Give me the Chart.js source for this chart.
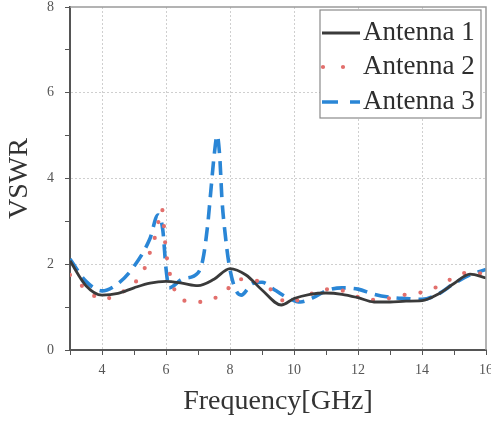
<!DOCTYPE html>
<html>
<head>
<meta charset="utf-8">
<script src="https://cdn.jsdelivr.net/npm/chart.js@4/dist/chart.umd.min.js"></script>
<style>
  html, body { margin: 0; padding: 0; background: #fff; }
  #wrap { width: 491px; height: 423px; position: relative; }
</style>
</head>
<body>
<div id="wrap"><canvas id="c" width="491" height="423"></canvas></div>
<script>
// ---- data ----
const seriesNames = ["Antenna 1", "Antenna 2", "Antenna 3"];

const freq1 = [3, 3.5, 4, 4.5, 5, 5.5, 6, 6.5, 7, 7.5, 8, 8.5, 9, 9.6, 10, 10.5, 11, 11.5, 12, 12.5, 13, 13.5, 14, 14.5, 15, 15.5, 16];
const vswr1 = [2.08, 1.5, 1.28, 1.32, 1.45, 1.56, 1.6, 1.56, 1.5, 1.65, 1.9, 1.75, 1.4, 1.05, 1.2, 1.3, 1.33, 1.3, 1.22, 1.12, 1.12, 1.14, 1.15, 1.3, 1.55, 1.77, 1.68];

const freq2 = [3, 3.5, 4, 4.5, 5, 5.3, 5.5, 5.7, 5.87, 6.0, 6.2, 6.5, 7, 7.5, 8, 8.3, 8.8, 9.3, 9.8, 10.25, 10.75, 11.3, 11.8, 12.3, 12.85, 13.4, 13.9, 14.4, 14.9, 15.4, 16];
const vswr2 = [1.75, 1.42, 1.18, 1.3, 1.55, 1.85, 2.28, 2.75, 3.3, 2.3, 1.55, 1.17, 1.12, 1.2, 1.47, 1.65, 1.62, 1.4, 1.1, 1.2, 1.38, 1.42, 1.3, 1.17, 1.19, 1.28, 1.33, 1.45, 1.65, 1.8, 1.78];

const freq3 = [3, 3.5, 4, 4.5, 5, 5.5, 5.75, 5.9, 6.0, 6.1, 6.5, 7, 7.15, 7.3, 7.4, 7.5, 7.6, 7.68, 7.75, 7.85, 7.97, 8.15, 8.35, 8.7, 9.0, 9.4, 9.8, 10.2, 10.6, 11, 11.5, 12, 12.5, 13, 13.5, 14, 14.5, 15, 15.5, 16];
const vswr3 = [2.12, 1.6, 1.38, 1.55, 1.95, 2.6, 3.15, 2.8, 1.9, 1.45, 1.65, 1.8, 2.1, 2.9, 3.7, 4.5, 5.0, 4.5, 3.5, 2.7, 2.0, 1.45, 1.28, 1.55, 1.58, 1.4, 1.22, 1.12, 1.22, 1.38, 1.45, 1.42, 1.3, 1.23, 1.2, 1.18, 1.3, 1.55, 1.75, 1.88];

const xTicks = [4, 6, 8, 10, 12, 14, 16];
const yTicks = [0, 2, 4, 6, 8];

// ---- chart ----
const toPts = (xs, ys) => xs.map((x, i) => ({ x: x, y: ys[i] }));
const serif = "'Liberation Serif', 'DejaVu Serif', serif";

const styles = [
  { color: '#3a3a3a', width: 2.8, dash: [], cap: 'butt' },
  { color: '#e26f6c', width: 4.2, dash: [0, 16], cap: 'round' },
  { color: '#2a86d6', width: 3.6, dash: [14, 8], cap: 'butt' }
];

const datasets = [toPts(freq1, vswr1), toPts(freq2, vswr2), toPts(freq3, vswr3)].map((d, i) => ({
  label: seriesNames[i],
  data: d,
  borderColor: styles[i].color,
  borderWidth: styles[i].width,
  borderDash: styles[i].dash,
  borderCapStyle: styles[i].cap,
  pointRadius: 0,
  fill: false,
  cubicInterpolationMode: 'monotone'
}));

const framePlugin = {
  id: 'frame',
  afterDatasetsDraw(chart) {
    const { ctx, chartArea: a } = chart;
    ctx.save();
    ctx.strokeStyle = '#9a9a9a';
    ctx.lineWidth = 1.5;
    ctx.beginPath();
    ctx.moveTo(a.left, a.top);
    ctx.lineTo(a.right, a.top);
    ctx.lineTo(a.right, a.bottom);
    ctx.stroke();
    ctx.restore();
  }
};

const legendPlugin = {
  id: 'customLegend',
  afterDraw(chart) {
    const { ctx } = chart;
    const bx = 320, by = 10, bw = 161, bh = 108;
    ctx.save();
    ctx.fillStyle = '#ffffff';
    ctx.fillRect(bx, by, bw, bh);
    ctx.strokeStyle = '#8a8a8a';
    ctx.lineWidth = 1.2;
    ctx.strokeRect(bx, by, bw, bh);
    const rows = [33, 67, 102];
    chart.data.datasets.forEach((ds, i) => {
      const y = rows[i];
      ctx.save();
      ctx.strokeStyle = ds.borderColor;
      ctx.lineWidth = ds.borderWidth;
      ctx.lineCap = ds.borderCapStyle;
      ctx.setLineDash(i === 1 ? [0, 20] : (i === 2 ? [16, 12] : []));
      ctx.beginPath();
      ctx.moveTo(i === 1 ? 323 : 322, y);
      ctx.lineTo(360, y);
      ctx.stroke();
      ctx.restore();
      ctx.fillStyle = '#2e2e2e';
      ctx.font = "27px " + serif;
      ctx.textBaseline = 'middle';
      ctx.textAlign = 'left';
      ctx.fillText(ds.label, 363, y);
    });
    ctx.restore();
  }
};

new Chart(document.getElementById('c'), {
  type: 'line',
  data: { datasets: datasets },
  options: {
    responsive: false,
    animation: false,
    layout: { padding: { left: 0, right: 5, top: 7, bottom: 0 } },
    plugins: { legend: { display: false }, tooltip: { enabled: false } },
    scales: {
      x: {
        type: 'linear',
        min: 3, max: 16,
        ticks: {
          stepSize: 1,
          autoSkip: false,
          maxRotation: 0,
          padding: 7,
          color: '#555',
          font: { family: serif, size: 14 },
          callback: (v) => xTicks.includes(v) ? String(v) : ''
        },
        grid: {
          color: (c) => (c.tick && xTicks.includes(c.tick.value) && c.tick.value !== 16) ? '#cfcfcf' : 'rgba(0,0,0,0)',
          tickColor: '#555',
          tickLength: 5,
          lineWidth: 1
        },
        border: { color: '#555', width: 2, dash: [2, 2] },
        title: {
          display: true,
          text: 'Frequency[GHz]',
          color: '#333',
          font: { family: serif, size: 28 },
          padding: { top: 0, bottom: 5 }
        },
        afterFit(s) { s.height = 73; s.paddingLeft = 0; s.paddingRight = 0; }
      },
      y: {
        type: 'linear',
        min: 0, max: 8,
        ticks: {
          stepSize: 1,
          autoSkip: false,
          padding: 11,
          color: '#555',
          font: { family: serif, size: 14 },
          callback: (v) => yTicks.includes(v) ? String(v) : ''
        },
        grid: {
          color: (c) => (c.tick && yTicks.includes(c.tick.value) && c.tick.value !== 0 && c.tick.value !== 8) ? '#cfcfcf' : 'rgba(0,0,0,0)',
          tickColor: '#555',
          tickLength: 5,
          lineWidth: 1
        },
        border: { color: '#555', width: 2, dash: [2, 2] },
        title: {
          display: true,
          text: 'VSWR',
          color: '#333',
          font: { family: serif, size: 28 },
          padding: { top: 3, bottom: 0 }
        },
        afterFit(s) { s.width = 70; s.paddingTop = 0; s.paddingBottom = 0; }
      }
    }
  },
  plugins: [framePlugin, legendPlugin]
});
</script>
</body>
</html>
